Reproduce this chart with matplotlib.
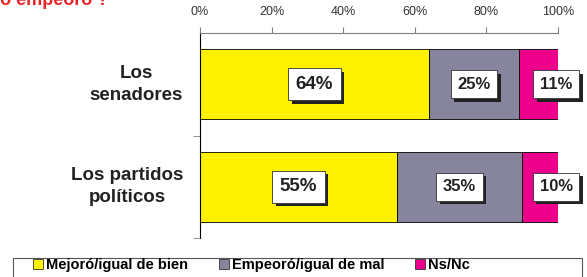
import matplotlib.pyplot as plt
import matplotlib.patheffects as pe
from matplotlib.patches import Rectangle
import numpy as np

# Data
categories = ['Los\nsenadores', 'Los partidos\npolíticos']
series_names = ['Mejoró/igual de bien', 'Empeoró/igual de mal', 'Ns/Nc']
mejoro = [64, 55]
empeoro = [25, 35]
nsnc = [11, 10]
xtick_values = [0, 20, 40, 60, 80, 100]

colors = ['#FFF200', '#86859D', '#EC008C']

plt.rcParams['font.family'] = ['Liberation Sans', 'DejaVu Sans']

fig = plt.figure(figsize=(5.87, 2.77), dpi=100)
ax = fig.add_axes([200 / 587, 1 - 238 / 277, 358 / 587, 205 / 277])

y = np.arange(len(categories))
values = [mejoro, empeoro, nsnc]
left = np.zeros(len(categories))
for i, (vals, col, name) in enumerate(zip(values, colors, series_names)):
    vals = np.array(vals, dtype=float)
    ax.barh(y, vals, left=left, height=0.68, color=col, edgecolor='black',
            linewidth=0.6, label=name)
    for j, v in enumerate(vals):
        if i == 2:
            # last label sits on the end of the bar
            xpos = left[j] + v - 0.5
            fs = 12
        else:
            xpos = left[j] + v / 2
            fs = 13.5 if i == 0 else 12
        t = ax.text(xpos, y[j], f'{int(v)}%', ha='center', va='center',
                    fontsize=fs, fontweight='bold', color='#222222',
                    bbox=dict(boxstyle='square,pad=0.4', fc='white',
                              ec='#333333', lw=0.6), clip_on=False, zorder=5)
        t.get_bbox_patch().set_path_effects([
            pe.SimplePatchShadow(offset=(2.5, -2.5), shadow_rgbFace='#222222', alpha=1),
            pe.Normal()])
    left += vals

ax.set_xlim(0, 100)
ax.set_ylim(1.5, -0.5)
ax.xaxis.tick_top()
ax.set_xticks(xtick_values)
ax.set_xticklabels([f'{v}%' for v in xtick_values])
ax.tick_params(axis='x', which='major', length=4, color='#808080', pad=6.5,
               labelsize=9, labelcolor='#333333')
ax.set_yticks([])
ax.set_yticks([0.5, 1.5], minor=True)
ax.tick_params(axis='y', which='minor', length=5, color='#808080')
for lbl_y, cat in zip(y, categories):
    ax.text(-0.047, lbl_y, cat, transform=ax.get_yaxis_transform(),
            ha='right', va='center', multialignment='center',
            fontsize=13.5, fontweight='bold', color='#222222', linespacing=1.4)

ax.spines['right'].set_visible(False)
ax.spines['bottom'].set_visible(False)
ax.spines['top'].set_color('#808080')
ax.spines['left'].set_color('black')
ax.spines['left'].set_linewidth(0.8)

# Title, mostly cut off at the top of the picture
fig.text(108 / 587, 1 - 5 / 277, '¿Cree que mejoró o empeoró ?', ha='right',
         va='baseline', fontsize=13, fontweight='bold', color='#E8262A')

# legend: items on the left, frame running across the whole width
leg = fig.legend(loc='upper left', bbox_to_anchor=(33 / 587, 1 - 258 / 277),
                 ncol=3, frameon=False, prop={'weight': 'bold', 'size': 10.5},
                 handlelength=0.7, handleheight=0.7, handletextpad=0.2,
                 columnspacing=2.1, borderpad=0, borderaxespad=0)
for h in leg.legend_handles:
    h.set_edgecolor('#333333')
    h.set_linewidth(0.6)
fig.patches.append(Rectangle((13 / 587, -0.05), 569 / 587, 0.05 + 1 - 258 / 277,
                             transform=fig.transFigure, fill=False,
                             edgecolor='#555555', linewidth=0.8))

fig.savefig('out.png', dpi=100)
